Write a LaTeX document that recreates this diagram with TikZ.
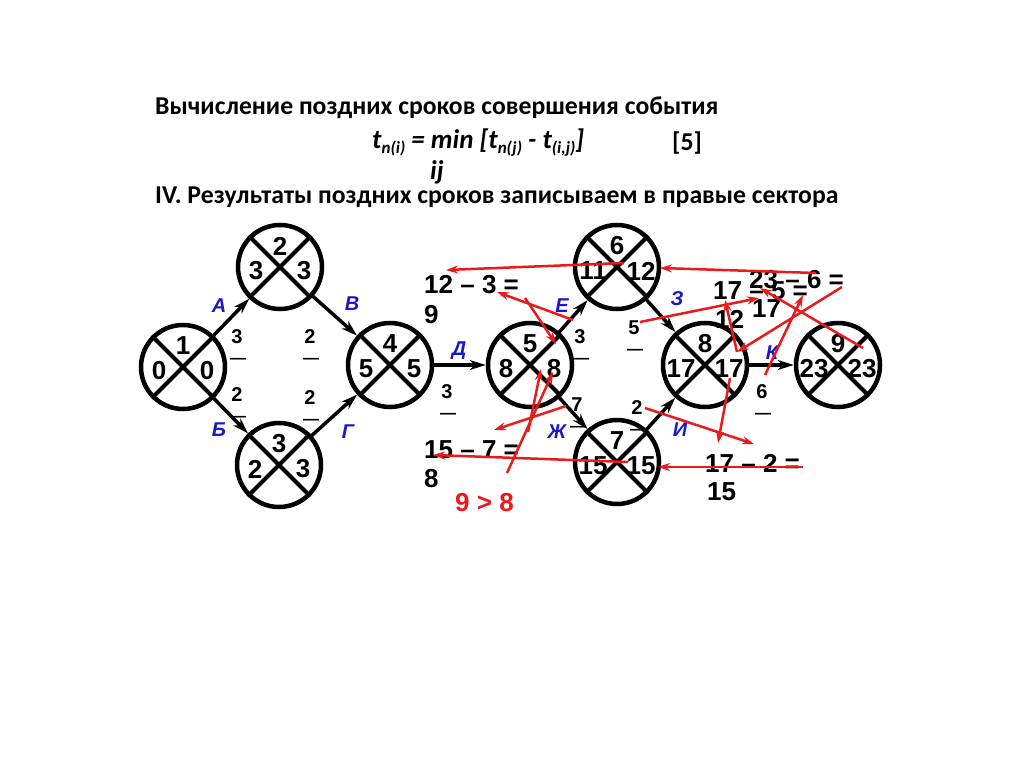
\documentclass[tikz,border=0pt]{standalone}
\usepackage{fontspec}
\setmainfont{Carlito}
\newfontfamily\arialf{Liberation Sans}
\usetikzlibrary{arrows.meta}
\definecolor{labblue}{RGB}{25,25,200}
\definecolor{annred}{RGB}{235,25,25}
\newcommand\lowsub[1]{\raisebox{-5pt}{\fontsize{17}{17}\selectfont #1}}
\newcommand\evnt[6]{%
  \node[evc] (#1) at (#2,#3) {};
  \draw[xline] (#1.north west) -- (#1.south east) (#1.north east) -- (#1.south west);
  \node[num] (#1t) at (#2,#3-21) {#4};
  \node[num] (#1l) at (#2-24,#3+4) {#5};
  \node[num] (#1r) at (#2+24,#3+4) {#6};
}
\newcommand\durn[4]{%
  \node[dur] (#1) at (#2,#3) {#4};
  \node[durl] (#1d) at (#2+1,#3+24) {—};
}
\begin{document}
\begin{tikzpicture}[x=1pt,y=-1pt,
  evc/.style={circle, draw, line width=4.5pt, minimum size=84pt, inner sep=0pt},
  xline/.style={line width=4pt},
  num/.style={font=\arialf\bfseries\fontsize{26}{26}\selectfont, inner sep=0pt},
  dur/.style={font=\arialf\bfseries\fontsize{20}{20}\selectfont, inner sep=0pt},
  durl/.style={font=\arialf\bfseries\fontsize{16}{16}\selectfont, inner sep=0pt},
  lab/.style={font=\arialf\bfseries\itshape\fontsize{20}{20}\selectfont, text=labblue, inner sep=0pt},
  ttl/.style={font=\bfseries\fontsize{25.7}{26}\selectfont, inner sep=0pt, anchor=west},
  fml/.style={font=\bfseries\itshape\fontsize{27}{27}\selectfont, inner sep=0pt, anchor=west},
  arr/.style={line width=3.5pt, -{Stealth[length=16pt,width=10pt,inset=5pt]}},
  ann/.style={draw=annred, line width=2.5pt, -{Stealth[length=12pt,width=8pt,inset=4pt]}}
]
\useasboundingbox (0,0) rectangle (1024,767);

% titles
\node[ttl] (t1) at (155,108) {Вычисление поздних сроков совершения события};
\node[fml] (f1) at (372,143)
  {t\lowsub{n(i)} = min [t\lowsub{n(j)} - t\lowsub{(i,j)}]};
\node[ttl] (f2) at (672,143) {[5]};
\node[fml] (f3) at (430,172) {ij};
\node[ttl] (t2) at (155,197) {IV. Результаты поздних сроков записываем в правые сектора};

% events
\evnt{n1}{183}{367}{1}{0}{0}
\evnt{n2}{280}{267}{2}{3}{3}
\evnt{n3}{279}{465}{3}{2}{3}
\evnt{n4}{390}{365}{4}{5}{5}
\evnt{n5}{530}{365}{5}{8}{8}
\evnt{n6}{617}{267}{6}{11}{12}
\evnt{n7}{617}{462}{7}{15}{15}
\evnt{n8}{705}{365}{8}{17}{17}
\evnt{n9}{838}{365}{9}{23}{23}

% durations
\durn{dA}{237}{337}{3}
\durn{dB}{237}{395}{2}
\durn{dV}{310}{337}{2}
\durn{dG}{310}{398}{2}
\durn{dD}{447}{392}{3}
\durn{dE}{580}{337}{3}
\durn{dZh}{577}{405}{7}
\durn{dZ}{634}{328}{5}
\durn{dI}{637}{408}{2}
\durn{dK}{762}{392}{6}

% activities
\draw[arr] (n1) -- (n2);
\draw[arr] (n1) -- (n3);
\draw[arr] (n2) -- (n4);
\draw[arr] (n3) -- (n4);
\draw[arr] (n4) -- (n5);
\draw[arr] (n5) -- (n6);
\draw[arr] (n5) -- (n7);
\draw[arr] (n6) -- (n8);
\draw[arr] (n7) -- (n8);
\draw[arr] (n8) -- (n9);

% activity letters
\node[lab] (lA) at (219,306) {А};
\node[lab] (lB) at (219,430) {Б};
\node[lab] (lV) at (352,304) {В};
\node[lab] (lG) at (348,432) {Г};
\node[lab] (lD) at (459,351) {Д};
\node[lab] (lE) at (562,306) {Е};
\node[lab] (lZh) at (557,432) {Ж};
\node[lab] (lZ) at (677,299) {З};
\node[lab] (lI) at (680,430) {И};
\node[lab] (lK) at (772,353) {К};

% calculations
\node[num, anchor=west] (c1a) at (424,285) {12 – 3 =};
\node[num, anchor=west] (c1b) at (424,315) {9};
\node[num, anchor=west] (c2a) at (424,450) {15 – 7 =};
\node[num, anchor=west] (c2b) at (424,479) {8};
\node[num, anchor=west, text=annred] (c2c) at (455,503) {9 > 8};
\node[num, anchor=west] (c3a) at (749,280) {23 – 6 =};
\node[num, anchor=west] (c3b) at (752,309) {17};
\node[num, anchor=west] (c4a) at (713,291) {17 – 5 =};
\node[num, anchor=west] (c4b) at (715,319) {12};
\node[num, anchor=west] (c5a) at (705,463) {17 – 2 =};
\node[num, anchor=west] (c5b) at (707,492) {15};

% red annotation strokes
\coordinate (a1s) at (624,263); \coordinate (a1e) at (446,270);
\coordinate (a2s) at (573,320); \coordinate (a2e) at (497,292);
\coordinate (a3s) at (525,298); \coordinate (a3e) at (556,344);
\coordinate (a4s) at (566,406); \coordinate (a4e) at (494,430);
\coordinate (a5s) at (507,473); \coordinate (a5e) at (553,372);
\coordinate (a6s) at (528,432); \coordinate (a6e) at (541,369);
\coordinate (a7s) at (628,462); \coordinate (a7e) at (433,455);
\coordinate (a8s) at (816,273); \coordinate (a8e) at (660,268);
\coordinate (a9s) at (640,322); \coordinate (a9e) at (759,298);
\coordinate (a10s) at (842,287); \coordinate (a10e) at (737,352);
\coordinate (a11e) at (725,300);
\coordinate (a12s) at (765,375); \coordinate (a12e) at (803,295);
\coordinate (a13s) at (863,348); \coordinate (a13e) at (760,288);
\coordinate (a14s) at (730,378); \coordinate (a14e) at (718,443);
\coordinate (a15s) at (645,408); \coordinate (a15e) at (754,444);
\coordinate (a16s) at (803,467); \coordinate (a16e) at (658,467);
\draw[ann] (a1s) -- (a1e);
\draw[ann] (a2s) -- (a2e);
\draw[ann] (a3s) -- (a3e);
\draw[ann] (a4s) -- (a4e);
\draw[ann] (a5s) -- (a5e);
\draw[ann] (a6s) -- (a6e);
\draw[ann] (a7s) -- (a7e);
\draw[ann] (a8s) -- (a8e);
\draw[ann] (a9s) -- (a9e);
\draw[ann] (a10s) -- (a10e);
\draw[ann] (a10e) -- (a11e);
\draw[ann] (a12s) -- (a12e);
\draw[ann] (a13s) -- (a13e);
\draw[ann] (a14s) -- (a14e);
\draw[ann] (a15s) -- (a15e);
\draw[ann] (a16s) -- (a16e);
\end{tikzpicture}
\end{document}
